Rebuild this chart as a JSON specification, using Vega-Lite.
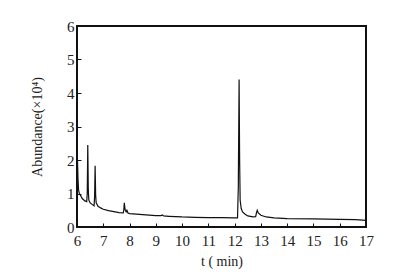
{
  "$schema": "https://vega.github.io/schema/vega-lite/v6.json",
  "width": 289,
  "height": 201,
  "autosize": {"type": "none"},
  "padding": {"left": 77, "top": 26, "right": 32, "bottom": 49},
  "background": "white",
  "config": {
    "view": {"stroke": "#111", "strokeWidth": 2},
    "font": "Liberation Serif",
    "axis": {
      "domain": false,
      "grid": false,
      "tickColor": "#111",
      "tickSize": -4,
      "tickWidth": 1,
      "labelFont": "Liberation Serif",
      "labelFontSize": 15,
      "labelColor": "#222",
      "titleFont": "Liberation Serif",
      "titleFontSize": 14,
      "titleFontWeight": "normal",
      "titleColor": "#222"
    }
  },
  "data": {
    "values": [
      {"t": 6.00, "a": 2.05}, {"t": 6.02, "a": 1.95}, {"t": 6.04, "a": 1.4}, {"t": 6.06, "a": 1.1},
      {"t": 6.09, "a": 1.0}, {"t": 6.13, "a": 0.95}, {"t": 6.2, "a": 0.85}, {"t": 6.3, "a": 0.78},
      {"t": 6.37, "a": 0.76}, {"t": 6.39, "a": 1.0}, {"t": 6.41, "a": 2.45}, {"t": 6.43, "a": 1.1},
      {"t": 6.45, "a": 0.8}, {"t": 6.5, "a": 0.72}, {"t": 6.6, "a": 0.66}, {"t": 6.65, "a": 0.63},
      {"t": 6.67, "a": 0.9}, {"t": 6.69, "a": 1.83}, {"t": 6.71, "a": 0.95}, {"t": 6.73, "a": 0.72},
      {"t": 6.8, "a": 0.62}, {"t": 6.9, "a": 0.57}, {"t": 7.0, "a": 0.53}, {"t": 7.2, "a": 0.49},
      {"t": 7.4, "a": 0.46}, {"t": 7.6, "a": 0.43}, {"t": 7.76, "a": 0.42}, {"t": 7.78, "a": 0.5},
      {"t": 7.8, "a": 0.72}, {"t": 7.83, "a": 0.52}, {"t": 7.87, "a": 0.45}, {"t": 7.9, "a": 0.5},
      {"t": 7.94, "a": 0.42}, {"t": 8.0, "a": 0.4}, {"t": 8.5, "a": 0.37}, {"t": 9.0, "a": 0.34},
      {"t": 9.2, "a": 0.34}, {"t": 9.25, "a": 0.36}, {"t": 9.3, "a": 0.33}, {"t": 9.5, "a": 0.32},
      {"t": 10.0, "a": 0.3}, {"t": 10.5, "a": 0.29}, {"t": 11.0, "a": 0.28}, {"t": 11.5, "a": 0.28},
      {"t": 12.0, "a": 0.27}, {"t": 12.11, "a": 0.27}, {"t": 12.14, "a": 1.2}, {"t": 12.17, "a": 4.4},
      {"t": 12.19, "a": 2.0}, {"t": 12.21, "a": 0.8}, {"t": 12.25, "a": 0.55}, {"t": 12.3, "a": 0.45},
      {"t": 12.4, "a": 0.38}, {"t": 12.5, "a": 0.33}, {"t": 12.7, "a": 0.3}, {"t": 12.8, "a": 0.31},
      {"t": 12.83, "a": 0.42}, {"t": 12.86, "a": 0.5}, {"t": 12.9, "a": 0.42}, {"t": 13.0, "a": 0.35},
      {"t": 13.2, "a": 0.3}, {"t": 13.5, "a": 0.27}, {"t": 14.0, "a": 0.25}, {"t": 15.0, "a": 0.24},
      {"t": 16.0, "a": 0.23}, {"t": 16.6, "a": 0.22}, {"t": 17.0, "a": 0.2}
    ]
  },
  "mark": {"type": "line", "color": "#111", "strokeWidth": 1.2, "interpolate": "linear"},
  "encoding": {
    "x": {
      "field": "t", "type": "quantitative",
      "scale": {"domain": [6, 17], "nice": false},
      "axis": {"values": [6,7,8,9,10,11,12,13,14,15,16,17], "labelPadding": 10, "title": "t ( min)", "titlePadding": 6, "labelFlush": false}
    },
    "y": {
      "field": "a", "type": "quantitative",
      "scale": {"domain": [0, 6], "nice": false},
      "axis": {"values": [0,1,2,3,4,5,6], "labelPadding": 7, "title": "Abundance(×10⁴)", "titlePadding": 22, "labelFlush": false}
    }
  }
}
